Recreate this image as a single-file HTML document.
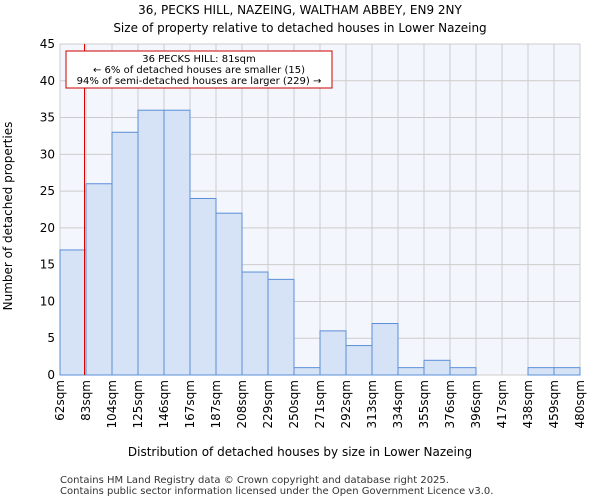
<!DOCTYPE html>
<html><head><meta charset="utf-8"><style>
body{margin:0;background:#fff;font-family:"DejaVu Sans","Liberation Sans",sans-serif}
</style></head><body>
<svg width="600" height="500" xmlns="http://www.w3.org/2000/svg" font-family="DejaVu Sans, Liberation Sans, sans-serif">
<text x="300" y="14" font-size="12" text-anchor="middle">36, PECKS HILL, NAZEING, WALTHAM ABBEY, EN9 2NY</text>
<text x="300" y="32" font-size="12" text-anchor="middle">Size of property relative to detached houses in Lower Nazeing</text>
<rect x="60" y="44" width="520" height="331" fill="#f4f6fd"/>
<g id="grid"></g><g id="bars"></g><g id="axes"></g>
<line id="marker" y1="44" y2="375" stroke="#dd0000" stroke-width="1"/>
<rect x="66" y="51" width="266" height="37" fill="#fff" stroke="#cc0000"/>
<text x="199" y="62" font-size="10" text-anchor="middle">36 PECKS HILL: 81sqm</text>
<text x="199" y="73" font-size="10" text-anchor="middle">← 6% of detached houses are smaller (15)</text>
<text x="199" y="84" font-size="10" text-anchor="middle">94% of semi-detached houses are larger (229) →</text>
<text x="300" y="456" font-size="12" text-anchor="middle">Distribution of detached houses by size in Lower Nazeing</text>
<text transform="translate(12,216) rotate(-90)" font-size="12" text-anchor="middle">Number of detached properties</text>
<text x="60" y="483" font-size="10" fill="#333">Contains HM Land Registry data © Crown copyright and database right 2025.</text>
<text x="60" y="494" font-size="10" fill="#333">Contains public sector information licensed under the Open Government Licence v3.0.</text>
</svg>
<script>
const labels=["62sqm","83sqm","104sqm","125sqm","146sqm","167sqm","187sqm","208sqm","229sqm","250sqm","271sqm","292sqm","313sqm","334sqm","355sqm","376sqm","396sqm","417sqm","438sqm","459sqm","480sqm"];
const counts=[17,26,33,36,36,24,22,14,13,1,6,4,7,1,2,1,0,0,1,1];
const yTicks=[0,5,10,15,20,25,30,35,40,45];
const propertySize=81;
const ns="http://www.w3.org/2000/svg";
const X0=60,X1=580,Y0=375,Y1=44,YMAX=45;
const bw=(X1-X0)/counts.length;
const x=i=>X0+i*bw;
const y=v=>Y0-(v/YMAX)*(Y0-Y1);
function mk(t,a,p){const e=document.createElementNS(ns,t);for(const k in a)e.setAttribute(k,a[k]);p.appendChild(e);return e;}
const grid=document.getElementById('grid'),bars=document.getElementById('bars'),axes=document.getElementById('axes');
yTicks.forEach(v=>{
 const l=mk('line',{x1:X0,x2:X1,y1:y(v),y2:y(v),stroke:'#cccccc'},grid);
 
 
 const t=mk('text',{x:X0-5,y:y(v)+4,'font-size':12,'text-anchor':'end'},axes);
 t.textContent=v;
 
 
});
labels.forEach((s,i)=>{
 const l=mk('line',{x1:x(i),x2:x(i),y1:Y1,y2:Y0,stroke:'#cccccc'},grid);
 
 
 const t=mk('text',{transform:`translate(${x(i)+4},${Y0+5}) rotate(-90)`,'font-size':12,'text-anchor':'end'},axes);
 t.textContent=s;
 
 
});
counts.forEach((c,i)=>{
 if(c<=0)return;
 const r=mk('rect',{x:x(i),y:y(c),width:bw,height:Y0-y(c),fill:'#d6e2f5',stroke:'#5b8fd8','stroke-width':1},bars);
 
 
});
const lo=parseFloat(labels[0]),hi=parseFloat(labels[labels.length-1]);
const mx=Math.round(X0+(propertySize-lo)/(hi-lo)*(X1-X0))+0.5;
const m=document.getElementById('marker');m.setAttribute('x1',mx);m.setAttribute('x2',mx);
</script>
</body></html>
